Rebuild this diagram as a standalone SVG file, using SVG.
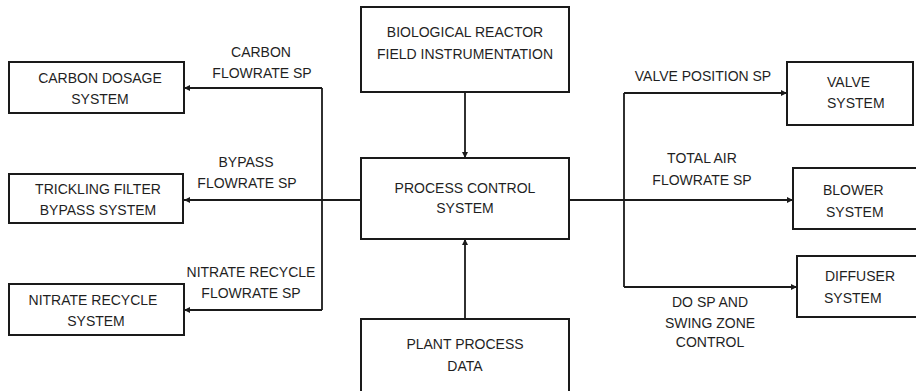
<svg xmlns="http://www.w3.org/2000/svg" width="916" height="391" viewBox="0 0 916 391">
<style>
.box{fill:#fff;stroke:#1a1a1a;stroke-width:2}
.t{font-family:"Liberation Sans",Arial,sans-serif;font-size:14px;fill:#1f1f1f;text-anchor:middle}
.tl{font-family:"Liberation Sans",Arial,sans-serif;font-size:14px;fill:#1f1f1f;text-anchor:start}
.c{fill:none;stroke:#1a1a1a;stroke-width:1.8}
</style>
<defs>
<marker id="ah" viewBox="0 0 10 10" refX="10" refY="5" markerWidth="6" markerHeight="6" markerUnits="userSpaceOnUse" orient="auto">
<path d="M0,0 L10,5 L0,10 z" fill="#1a1a1a"/>
</marker>
</defs>
<rect width="916" height="391" fill="#fff"/>
<g id="connectors">
<path class="c" d="M465,92 V158" marker-end="url(#ah)"/>
<path class="c" d="M465,319 V239" marker-end="url(#ah)"/>
<path class="c" d="M361,200 H184" marker-end="url(#ah)"/>
<path class="c" d="M322,88 V310"/>
<path class="c" d="M322,88 H184" marker-end="url(#ah)"/>
<path class="c" d="M322,310 H184" marker-end="url(#ah)"/>
<path class="c" d="M569,200 H793" marker-end="url(#ah)"/>
<path class="c" d="M624,93 V287"/>
<path class="c" d="M624,93 H787" marker-end="url(#ah)"/>
<path class="c" d="M624,287 H797" marker-end="url(#ah)"/>
<text class="t" x="261" y="57">CARBON</text>
<text class="t" x="262" y="78">FLOWRATE SP</text>
<text class="t" x="246" y="167">BYPASS</text>
<text class="t" x="247" y="188">FLOWRATE SP</text>
<text class="t" x="251" y="277">NITRATE RECYCLE</text>
<text class="t" x="251" y="298">FLOWRATE SP</text>
<text class="t" x="703" y="81">VALVE POSITION SP</text>
<text class="t" x="702" y="163">TOTAL AIR</text>
<text class="t" x="702" y="185">FLOWRATE SP</text>
<text class="t" x="710" y="307">DO SP AND</text>
<text class="t" x="710" y="328">SWING ZONE</text>
<text class="t" x="710" y="347">CONTROL</text>
</g>
<g id="carbon">
<rect class="box" x="9" y="62" width="175" height="51"/>
<text class="t" x="100" y="83">CARBON DOSAGE</text>
<text class="t" x="100" y="104">SYSTEM</text>
</g>
<g id="trickling">
<rect class="box" x="9" y="174" width="174" height="49"/>
<text class="t" x="98" y="194">TRICKLING FILTER</text>
<text class="t" x="98" y="215">BYPASS SYSTEM</text>
</g>
<g id="nitrate">
<rect class="box" x="9" y="284" width="175" height="51"/>
<text class="t" x="93" y="305">NITRATE RECYCLE</text>
<text class="t" x="96" y="326">SYSTEM</text>
</g>
<g id="bio">
<rect class="box" x="361" y="7" width="208" height="85"/>
<text class="t" x="465" y="37">BIOLOGICAL REACTOR</text>
<text class="t" x="465" y="59">FIELD INSTRUMENTATION</text>
</g>
<g id="pcs">
<rect class="box" x="361" y="158" width="208" height="81"/>
<text class="t" x="465" y="193">PROCESS CONTROL</text>
<text class="t" x="465" y="213">SYSTEM</text>
</g>
<g id="plant">
<rect class="box" x="361" y="319" width="208" height="80"/>
<text class="t" x="465" y="349">PLANT PROCESS</text>
<text class="t" x="465" y="371">DATA</text>
</g>
<g id="valve">
<rect class="box" x="787" y="62" width="126" height="63"/>
<text class="tl" x="827" y="87">VALVE</text>
<text class="tl" x="827" y="108">SYSTEM</text>
</g>
<g id="blower">
<rect class="box" x="793" y="168" width="130" height="61"/>
<text class="tl" x="823" y="195">BLOWER</text>
<text class="tl" x="826" y="217">SYSTEM</text>
</g>
<g id="diffuser">
<rect class="box" x="797" y="256" width="130" height="61"/>
<text class="tl" x="825" y="281">DIFFUSER</text>
<text class="tl" x="824" y="303">SYSTEM</text>
</g>
</svg>
